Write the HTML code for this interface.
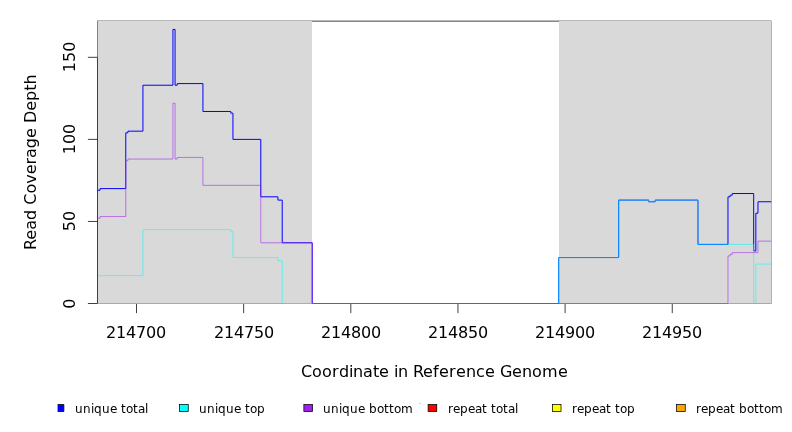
<!DOCTYPE html>
<html><head><meta charset="utf-8"><title>Read Coverage Depth</title>
<style>html,body{margin:0;padding:0;background:#fff;width:792px;height:432px;overflow:hidden}svg{position:absolute;left:0;top:0;display:block}</style></head>
<body>
<svg width="792" height="432" viewBox="0 0 792 432">
<rect width="792" height="432" fill="#fff"/>
<g shape-rendering="crispEdges">
<rect x="98" y="21" width="214" height="282" fill="#d9d9d9"/>
<rect x="559" y="21" width="212" height="282" fill="#d9d9d9"/>
<rect x="97" y="20" width="674" height="1" fill="#b9b9b9"/>
<rect x="312" y="21" width="247" height="1" fill="#878787"/>
<rect x="97" y="21" width="1" height="36" fill="#828282"/>
<rect x="771" y="21" width="1" height="282" fill="#b4b4b4"/>
<rect x="771" y="20" width="1" height="1" fill="#ebebeb"/>
<rect x="98" y="303" width="673" height="1" fill="#ff9e00"/>
<rect x="771" y="303" width="1" height="1" fill="#f0a090"/>
<rect x="419" y="403" width="2" height="1" fill="#d0d0d0"/>
</g>
<clipPath id="pc"><rect x="97.5" y="20.5" width="674.0" height="284.0"/></clipPath>
<g clip-path="url(#pc)">
<path d="M97.50,190.26H100.07V188.62H125.78V132.82H127.93V131.17H142.93V85.22H172.93V29.42H175.07V85.22H177.22V83.58H202.93V111.48H230.79V113.12H232.94V139.38H260.79V196.82H277.94V200.10H282.22V242.78H312.23V303.50H558.67V257.55H618.67V200.10H648.68V201.75H655.11V200.10H697.97V244.42H727.97V196.82H730.11V195.18H732.25V193.54H753.68V250.98H755.83V213.23H757.97V201.75H771.50" fill="none" stroke="#0000ff" stroke-width="1.0" stroke-opacity="1" stroke-linejoin="round"/>
<path d="M97.50,275.60H142.93V229.65H230.79V231.29H232.94V257.55H277.94V260.83H282.22V303.50H558.67V257.55H618.67V200.10H648.68V201.75H655.11V200.10H697.97V244.42H753.68V301.86H755.83V264.11H771.50" fill="none" stroke="#00ffff" stroke-width="0.56" stroke-opacity="1" stroke-linejoin="round"/>
<path d="M97.50,218.16H100.07V216.52H125.78V160.72H127.93V159.07H172.93V103.27H175.07V159.07H177.22V157.43H202.93V185.33H260.79V242.78H312.23V303.50H727.97V255.91H730.11V254.26H732.25V252.62H757.97V241.13H771.50" fill="none" stroke="#a020f0" stroke-width="0.56" stroke-opacity="1" stroke-linejoin="round"/>
</g>
<g fill="none" stroke="#000" stroke-width="0.75">
<path d="M97.5,303.50V57.32"/>
<path d="M97.5,303.50H87.90"/>
<path d="M97.5,221.44H87.90"/>
<path d="M97.5,139.38H87.90"/>
<path d="M97.5,57.32H87.90"/>
<path d="M136.50,304V313.10"/>
<path d="M243.65,304V313.10"/>
<path d="M350.80,304V313.10"/>
<path d="M457.95,304V313.10"/>
<path d="M565.10,304V313.10"/>
<path d="M672.25,304V313.10"/>
</g>
<g font-family="'DejaVu Sans','Liberation Sans',sans-serif" fill="#000">
<g font-size="16">
<text text-anchor="middle" transform="translate(74.8,303.70) rotate(-90)">0</text>
<text text-anchor="middle" transform="translate(74.8,221.04) rotate(-90)">50</text>
<text text-anchor="middle" transform="translate(74.8,138.98) rotate(-90)">100</text>
<text text-anchor="middle" transform="translate(74.8,56.92) rotate(-90)">150</text>
<text x="106 116 126 136 146 156" y="338.1" font-size="16">214700</text>
<text x="214 224 234 244 254 264" y="338.1" font-size="16">214750</text>
<text x="321 331 341 351 361 371" y="338.1" font-size="16">214800</text>
<text x="428 438 448 458 468 478" y="338.1" font-size="16">214850</text>
<text x="535 545 555 565 575 585" y="338.1" font-size="16">214900</text>
<text x="642 652 662 672 682 692" y="338.1" font-size="16">214950</text>
<text x="301 312 322 332 339 349 353 363 373 379 389 394 398 408 413 423 433 439 449 456 466 476 485 495 500 512 522 532 542 558" y="377.4" font-size="16">Coordinate in Reference Genome</text>
<text text-anchor="middle" transform="translate(36.0,162.20) rotate(-90)">Read Coverage Depth</text>
</g>
<g font-size="12">
<rect x="57.6" y="404.5" width="6.26" height="7" fill="#0000ff"/><path d="M57.6,404.5H63.86V411.5H57.6" fill="none" stroke="#000" stroke-width="0.75"/>
<text x="75 83 91 94 102 110 117 121 126 133 138 145" y="413.3" font-size="12">unique total</text>
<rect x="179.62" y="404.5" width="8.64" height="7" fill="#00ffff" stroke="#000" stroke-width="0.75"/>
<text x="199 207 215 218 226 234 241 245 250 257" y="413.3" font-size="12">unique top</text>
<rect x="303.87" y="404.5" width="8.64" height="7" fill="#a020f0" stroke="#000" stroke-width="0.75"/>
<text x="323 331 339 342 350 358 365 369 377 384 389 394 401" y="413.3" font-size="12">unique bottom</text>
<rect x="428.12" y="404.5" width="8.64" height="7" fill="#ff0000" stroke="#000" stroke-width="0.75"/>
<text x="448 453 460 468 475 482 487 491 496 503 508 515" y="413.3" font-size="12">repeat total</text>
<rect x="552.37" y="404.5" width="8.64" height="7" fill="#ffff00" stroke="#000" stroke-width="0.75"/>
<text x="572 577 584 592 599 606 611 615 620 627" y="413.3" font-size="12">repeat top</text>
<rect x="676.62" y="404.5" width="8.64" height="7" fill="#ffa500" stroke="#000" stroke-width="0.75"/>
<text x="696 701 708 716 723 730 735 739 747 754 759 764 771" y="413.3" font-size="12">repeat bottom</text>
</g></g>
</svg>
</body></html>
